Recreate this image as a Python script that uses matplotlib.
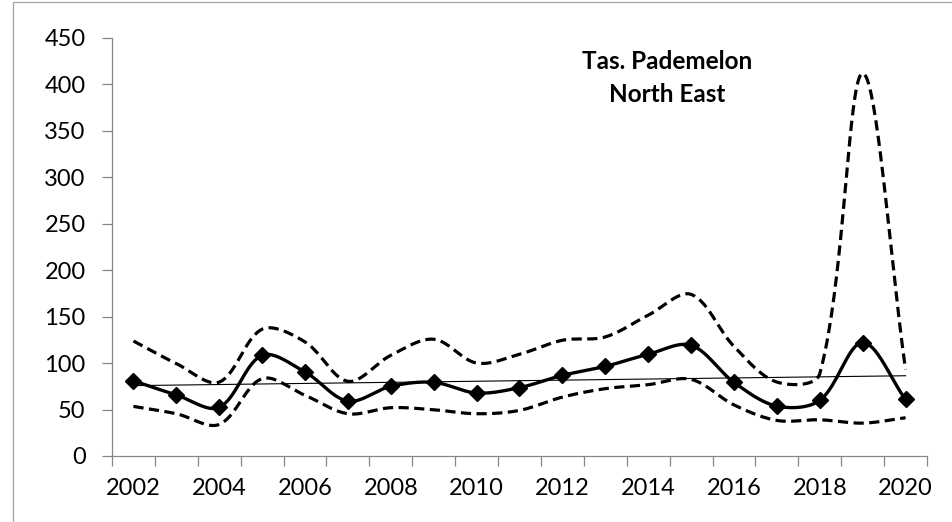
import numpy as np
import matplotlib.pyplot as plt
from matplotlib.patches import Rectangle

years = list(range(2002, 2021))
estimate = [81, 65.7, 52.4, 108.4, 90.4, 59.1, 75, 79.3, 67.8, 73.6,
            86.8, 96.5, 109.5, 119.2, 79.3, 53.7, 59.9, 122.1, 60.9]
upper = [123.8, 99.5, 79.6, 136.5, 122.8, 80.4, 108.4, 125.7, 100.1, 109.5,
         124.6, 128.2, 151.6, 174, 118, 79.6, 88.6, 412, 93.3]
lower = [53.4, 45.5, 34, 83.3, 65.3, 45.5, 52, 49.8, 45.5, 49.1,
         63.4, 72.5, 76.8, 82.5, 55, 38.3, 39, 35.4, 41.2]
title = "Tas. Pademelon\nNorth East"

FONT = "Lato"
GREY = "#868686"
# pixels per category / per y unit, used so smoothing works in screen space
PX_X, PX_Y = 43.0, 0.927


def smooth(x, y, n=40):
    # bezier smoothing through every point, tangent handles scaled by
    # the length of the neighbouring segments
    pts = np.column_stack([np.asarray(x, float) * PX_X,
                           np.asarray(y, float) * PX_Y])
    m = len(pts)
    fwd = np.zeros_like(pts)
    bwd = np.zeros_like(pts)
    for i in range(m):
        prev = pts[i - 1] if i > 0 else pts[i]
        nxt = pts[i + 1] if i < m - 1 else pts[i]
        d = nxt - prev
        l1 = np.hypot(*(pts[i] - prev))
        l2 = np.hypot(*(nxt - pts[i]))
        tot = l1 + l2 if l1 + l2 > 0 else 1.0
        fwd[i] = pts[i] + d * (l2 / tot) / 3.0
        bwd[i] = pts[i] - d * (l1 / tot) / 3.0
    t = np.linspace(0, 1, n)[1:, None]
    out = [pts[0]]
    for i in range(m - 1):
        p0, p1, p2, p3 = pts[i], fwd[i], bwd[i + 1], pts[i + 1]
        seg = ((1 - t) ** 3) * p0 + 3 * ((1 - t) ** 2) * t * p1 \
            + 3 * (1 - t) * t ** 2 * p2 + t ** 3 * p3
        out.extend(seg)
    out = np.array(out)
    return out[:, 0] / PX_X, out[:, 1] / PX_Y


plt.rcParams['font.family'] = [FONT, 'DejaVu Sans']

fig = plt.figure(figsize=(9.53, 5.22), dpi=100)
ax = fig.add_axes([112 / 953, 66 / 522, 815 / 953, 418 / 522])

# outer chart frame
fig.patches.append(Rectangle((13 / 953, -0.1), 1.2, (520 / 522) + 0.1,
                             transform=fig.transFigure, fill=False,
                             edgecolor="#a6a6a6", linewidth=0.9))

xs = np.arange(len(years))

sx, sy = smooth(xs, upper)
ax.plot(sx, sy, color="black", lw=2.3, ls=(0, (3.2, 1.7)))
sx, sy = smooth(xs, lower)
ax.plot(sx, sy, color="black", lw=2.3, ls=(0, (3.2, 1.7)))
sx, sy = smooth(xs, estimate)
ax.plot(sx, sy, color="black", lw=2.4)
ax.plot(xs, estimate, ls="none", marker="D", ms=8.6, color="black")

# linear trend of the estimate
k, b = np.polyfit(xs, estimate, 1)
ax.plot(xs, k * xs + b, color="black", lw=0.8)

ax.set_xlim(-0.5, len(years) - 0.5)
ax.set_ylim(0, 450)
ax.set_yticks(np.arange(0, 451, 50))

ax.set_xticks(np.arange(-0.5, len(years), 1.0))
ax.set_xticklabels([])
ax.set_xticks(xs[::2], minor=True)
ax.set_xticklabels([str(y) for y in years[::2]], minor=True)

ax.tick_params(axis="x", which="major", length=7, width=0.9, color=GREY, direction="out")
ax.tick_params(axis="x", which="minor", length=0, pad=16, labelsize=17)
ax.tick_params(axis="y", length=7, width=0.9, color=GREY, direction="out",
               pad=12, labelsize=17)

for side in ("top", "right"):
    ax.spines[side].set_visible(False)
for side in ("left", "bottom"):
    ax.spines[side].set_color(GREY)
    ax.spines[side].set_linewidth(0.9)

ax.text(0.681, 0.904, title, transform=ax.transAxes, ha="center", va="center",
        fontsize=17.5, fontweight="bold", linespacing=1.55)

fig.savefig("out.png", dpi=100)
